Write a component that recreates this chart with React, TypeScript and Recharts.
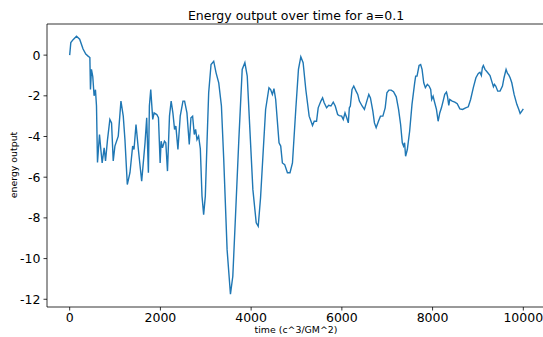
import { LineChart, Line, XAxis, YAxis, ReferenceLine } from "recharts";

const times = [
  0, 25, 75, 150, 220, 295, 355, 405, 445, 458, 480, 509, 538, 568, 591, 613, 657, 687, 716, 760,
  790, 834, 886, 923, 960, 997, 1071, 1130, 1181, 1218, 1270, 1329, 1388, 1418, 1462, 1514, 1587,
  1661, 1698, 1735, 1757, 1787, 1831, 1861, 1920, 1957, 1994, 2016, 2045, 2089, 2119, 2156, 2200,
  2237, 2275, 2312, 2341, 2386, 2437, 2497, 2533, 2585, 2636, 2673, 2710, 2747, 2776, 2806, 2842,
  2880, 2917, 2953, 2990, 3027, 3064, 3116, 3175, 3227, 3286, 3345, 3396, 3470, 3544, 3596, 3655,
  3729, 3803, 3862, 3914, 3965, 4038, 4112, 4156, 4208, 4268, 4319, 4393, 4430, 4468, 4503, 4541,
  4615, 4652, 4689, 4740, 4800, 4857, 4911, 4984, 5043, 5095, 5146, 5205, 5279, 5353, 5391, 5442,
  5478, 5538, 5575, 5610, 5664, 5708, 5759, 5810, 5854, 5907, 5943, 5995, 6031, 6069, 6107, 6142,
  6165, 6187, 6224, 6262, 6313, 6350, 6386, 6446, 6497, 6550, 6594, 6630, 6683, 6718, 6756, 6807,
  6851, 6904, 6955, 6993, 7037, 7088, 7139, 7199, 7250, 7295, 7332, 7360, 7383, 7405, 7443, 7494,
  7546, 7605, 7627, 7657, 7702, 7737, 7768, 7805, 7841, 7885, 7923, 7958, 7980, 8011, 8047, 8085,
  8122, 8158, 8195, 8232, 8268, 8306, 8328, 8357, 8379, 8432, 8490, 8543, 8601, 8661, 8728, 8787,
  8838, 8898, 8955, 9008, 9044, 9075, 9097, 9119, 9155, 9208, 9266, 9303, 9341, 9363, 9392, 9436,
  9487, 9540, 9575, 9620, 9651, 9673, 9709, 9746, 9797, 9857, 9901, 9930, 9967, 10000,
];

const energy = [
  0, 0.62, 0.76, 0.93, 0.78, 0.3, 0.05, -0.05, -0.12, -1.69, -0.7, -1.05, -2.0, -1.7, -2.5, -5.28,
  -3.9, -4.64, -5.3, -4.56, -5.2, -4.15, -3.16, -3.33, -5.2, -4.47, -3.98, -2.26, -3.0, -4.15, -6.36,
  -5.78, -4.47, -4.64, -3.41, -4.64, -6.2, -4.31, -3.08, -5.78, -2.5, -1.69, -3.16, -2.84, -2.92,
  -3.08, -5.3, -4.23, -4.56, -4.23, -4.31, -5.7, -3.0, -2.26, -2.84, -3.65, -3.49, -4.64, -3.0, -2.26,
  -2.26, -2.84, -4.39, -3.08, -3.0, -3.9, -3.65, -4.15, -3.98, -4.6, -6.93, -7.84, -6.93, -4.31,
  -1.85, -0.46, -0.3, -0.87, -1.36, -2.5, -5.13, -9.56, -11.75, -10.87, -7.92, -4.15, -0.7, -0.37,
  -1.03, -3.33, -6.6, -8.24, -8.41, -7.0, -4.64, -2.67, -1.6, -1.69, -1.93, -1.65, -2.18, -4.31,
  -4.47, -5.3, -5.38, -5.78, -5.78, -5.3, -2.67, -0.7, -0.08, -0.37, -1.69, -3.0, -3.46, -3.25,
  -3.25, -2.59, -2.26, -2.1, -2.34, -2.59, -2.47, -2.5, -2.31, -2.5, -2.92, -2.97, -3.0, -3.16,
  -2.84, -3.08, -3.33, -2.59, -2.5, -1.69, -1.52, -1.77, -1.93, -2.26, -2.5, -2.67, -2.26, -1.93,
  -2.1, -2.75, -3.33, -3.57, -3.25, -3.0, -3.0, -2.59, -1.85, -1.72, -1.72, -1.8, -2.05, -2.67,
  -3.41, -4.31, -4.47, -4.31, -4.97, -4.64, -3.74, -2.42, -1.36, -1.03, -1.03, -0.51, -0.46, -0.7,
  -1.36, -1.6, -1.44, -1.52, -1.69, -2.18, -2.02, -2.34, -2.67, -3.25, -2.84, -2.59, -2.26, -1.93,
  -1.82, -2.02, -2.47, -2.18, -2.26, -2.31, -2.39, -2.64, -2.67, -2.59, -2.54, -2.18, -1.6, -1.11,
  -0.9, -0.84, -1.0, -0.62, -0.51, -0.7, -0.84, -1.0, -1.28, -1.55, -1.44, -1.52, -1.77, -1.77,
  -1.52, -1.11, -0.7, -0.9, -0.95, -1.11, -1.36, -1.93, -2.42, -2.67, -2.87, -2.75, -2.64,
];

const xTicks = [0, 2000, 4000, 6000, 8000, 10000];
const yTicks = [-12, -10, -8, -6, -4, -2, 0];

const data = times.map((t, i) => ({ t, e: energy[i] }));

const font = "'DejaVu Sans', sans-serif";
const tickStyle = { fontSize: 12.5, fill: "#000", fontFamily: font };
const X_MIN = -500;
const X_MAX = 10500;
const Y_MIN = -12.38;
const Y_MAX = 1.53;

export default function App() {
  return (
    <div
      style={{
        position: "absolute",
        left: 0,
        top: 0,
        width: 543,
        height: 337,
        overflow: "hidden",
        background: "#fff",
        fontFamily: font,
      }}
    >
      <LineChart width={560} height={337} data={data} margin={{ top: 24, right: 14, left: 0, bottom: 0 }}>
        <XAxis
          dataKey="t"
          type="number"
          domain={[X_MIN, X_MAX]}
          ticks={xTicks}
          allowDataOverflow
          height={30}
          tickSize={3.5}
          tickMargin={3}
          tick={tickStyle}
          stroke="#000"
          strokeWidth={0.8}
        />
        <YAxis
          type="number"
          domain={[Y_MIN, Y_MAX]}
          ticks={yTicks}
          allowDataOverflow
          width={47}
          tickSize={3.5}
          tickMargin={3}
          tick={tickStyle}
          stroke="#000"
          strokeWidth={0.8}
        />
        <ReferenceLine y={Y_MAX} stroke="#000" strokeWidth={0.8} />
        <ReferenceLine x={X_MAX} stroke="#000" strokeWidth={0.8} />
        <Line
          dataKey="e"
          type="linear"
          stroke="#1f77b4"
          strokeWidth={1.4}
          dot={false}
          isAnimationActive={false}
        />
        <text x={296} y={20} textAnchor="middle" fontSize={12.5} fill="#000" fontFamily={font}>
          Energy output over time for a=0.1
        </text>
        <text x={296} y={333} textAnchor="middle" fontSize={9.4} fill="#000" fontFamily={font}>
          time (c^3/GM^2)
        </text>
        <text
          x={17}
          y={165}
          textAnchor="middle"
          fontSize={9.4}
          fill="#000"
          fontFamily={font}
          transform="rotate(-90 17 165)"
        >
          energy output
        </text>
      </LineChart>
    </div>
  );
}
